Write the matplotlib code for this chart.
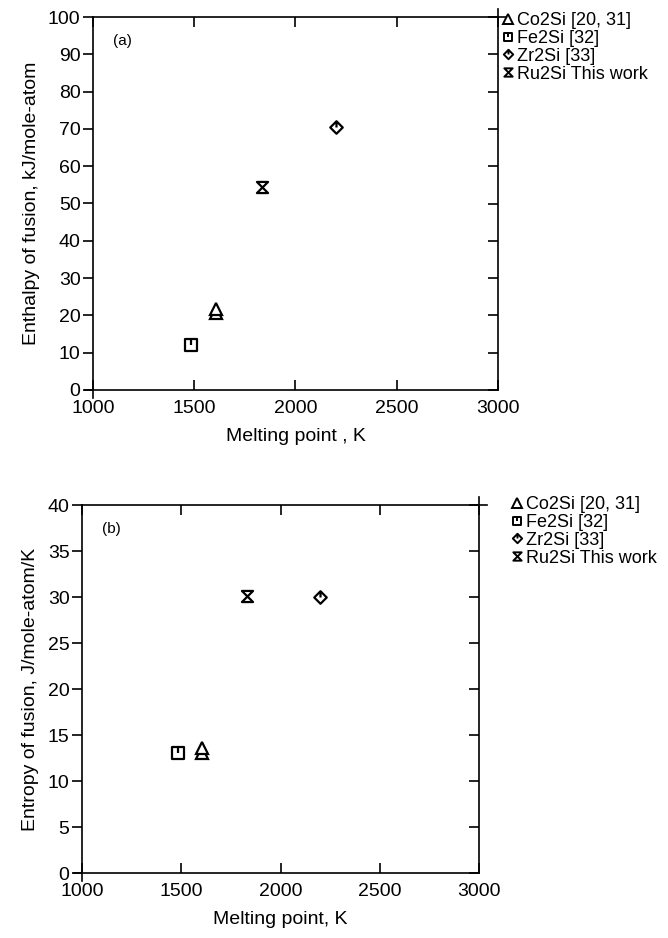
import numpy as np
import matplotlib.pyplot as plt
from matplotlib.path import Path
from matplotlib.lines import Line2D

plt.rcParams['font.family'] = ['Liberation Sans', 'DejaVu Sans']

# Datos
compuestos = ['Co2Si [20, 31]', 'Fe2Si [32]', 'Zr2Si [33]', 'Ru2Si This work']
tm_co = [1607, 1607]
h_co = [20.6, 21.6]
s_co = [13.0, 13.6]
tm_fe = [1485]
h_fe = [12.1]
s_fe = [13.0]
tm_zr = [2200]
h_zr = [70.4]
s_zr = [30.0]
tm_ru = [1833]
h_ru = [54.5]
s_ru = [30.1]

# Marcadores propios (con la rayita interior como en el original)
M, L, C = Path.MOVETO, Path.LINETO, Path.CLOSEPOLY
cuadrado = Path([(-1, -1), (1, -1), (1, 1), (-1, 1), (-1, -1), (0, 1), (0, 0)],
                [M, L, L, L, C, M, L])
rombo = Path([(0, -1), (1, 0), (0, 1), (-1, 0), (0, -1), (0, 1), (0, 0)],
             [M, L, L, L, C, M, L])
reloj = Path([(-1, 1), (1, 1), (-1, -1), (1, -1), (-1, 1)], [M, L, L, L, C])

estilos = [('^', 9), (cuadrado, 8), (rombo, 9), (reloj, 8)]

fig = plt.figure(figsize=(6.68, 9.38), dpi=100)
W, H = 668, 938


def panel(caja, ys, ylim, yticks, ylabel, xlabel, letra, leg_xy):
    x0, x1, y0, y1 = caja
    ax = fig.add_axes([x0 / W, 1 - y1 / H, (x1 - x0) / W, (y1 - y0) / H])
    series = [(tm_co, ys[0]), (tm_fe, ys[1]), (tm_zr, ys[2]), (tm_ru, ys[3])]
    for (xs, yy), (mk, ms) in zip(series, estilos):
        ax.plot(xs, yy, linestyle='none', marker=mk, ms=ms, mfc='white',
                mec='black', mew=1.6, clip_on=False)
    ax.set_xlim(1000, 3000)
    ax.set_ylim(*ylim)
    ax.set_xticks([1000, 1500, 2000, 2500, 3000])
    ax.set_yticks(yticks)
    # ejes que se cruzan en las esquinas
    dx = 2000 * 8 / (x1 - x0)
    dy = (ylim[1] - ylim[0]) * 8 / (y1 - y0)
    for s in ax.spines.values():
        s.set_linewidth(1.2)
    ax.spines['left'].set_bounds(ylim[0] - dy, ylim[1])
    ax.spines['right'].set_bounds(ylim[0], ylim[1] + dy)
    ax.spines['bottom'].set_bounds(1000 - dx, 3000)
    ax.spines['top'].set_bounds(1000, 3000 + dx)
    ax.tick_params(axis='y', left=True, right=False, direction='out', length=7,
                   width=1.2, labelsize=14, pad=2)
    ax.tick_params(axis='x', bottom=True, top=True, direction='in', length=7,
                   width=1.2, labelsize=14, pad=7)
    # marcas interiores en el lado derecho
    der = ax.secondary_yaxis('right')
    der.set_yticks(yticks)
    der.tick_params(direction='in', length=7, width=1.2, labelright=False)
    der.spines['right'].set_visible(False)
    ax.set_xlabel(xlabel, fontsize=14, labelpad=8)
    ax.set_ylabel(ylabel, fontsize=14, labelpad=6)
    ax.text(0.05, 0.925, letra, transform=ax.transAxes, fontsize=11)
    handles = [Line2D([], [], linestyle='none', marker=mk, ms=ms * 0.75,
                      mfc='white', mec='black', mew=1.4)
               for mk, ms in estilos]
    fig.legend(handles, compuestos, loc='upper left',
               bbox_to_anchor=(leg_xy[0] / W, 1 - leg_xy[1] / H),
               frameon=False, fontsize=13, handlelength=0.6,
               handletextpad=0.2, labelspacing=0.05, borderpad=0,
               borderaxespad=0)
    return ax


ax_a = panel((93, 498, 17, 390), [h_co, h_fe, h_zr, h_ru], (0, 100),
             np.arange(0, 101, 10), 'Enthalpy of fusion, kJ/mole-atom',
             'Melting point , K', '(a)', (503, 12))
ax_b = panel((82, 479, 505, 873), [s_co, s_fe, s_zr, s_ru], (0, 40),
             np.arange(0, 41, 5), 'Entropy of fusion, J/mole-atom/K',
             'Melting point, K', '(b)', (512, 496))

fig.savefig('out.png', dpi=100)
